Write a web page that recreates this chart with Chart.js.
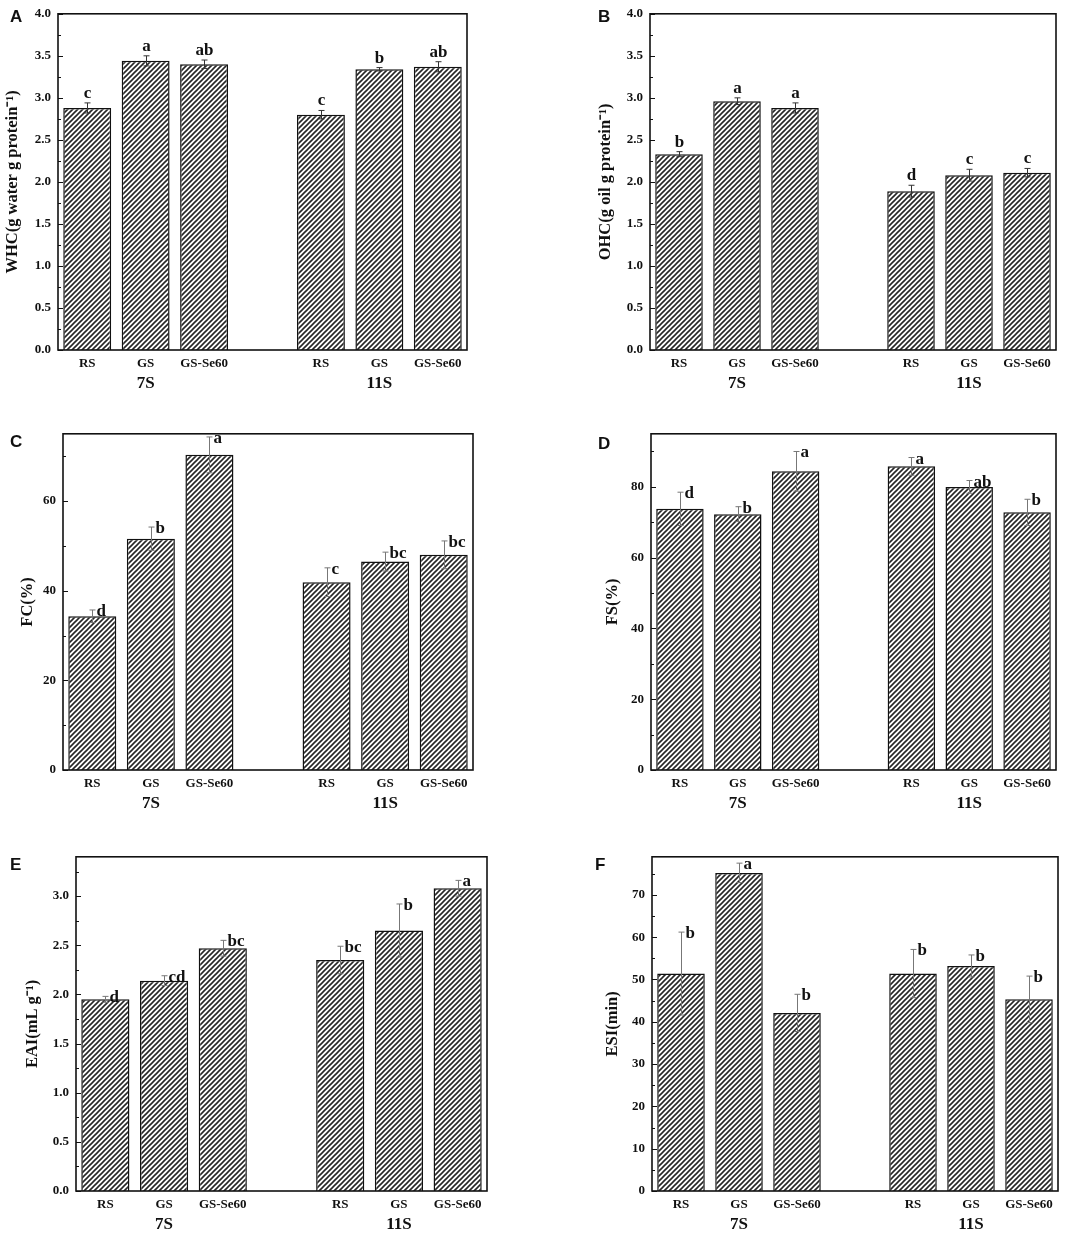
<html>

<head>
  <title>Protein functional properties</title>
  <style>
    body {
      margin: 0;
      background: #fff;
      width: 1084px;
      height: 1237px;
      position: relative;
      overflow: hidden;
    }
    .box {
      position: absolute;
    }
    .tag {
      position: absolute;
      font: bold 17px "Liberation Sans", Arial, sans-serif;
      color: #111;
    }
  </style>
  <script src="https://cdn.jsdelivr.net/npm/chart.js@4.4.0/dist/chart.umd.min.js"></script>
</head>

<body>
  <script>
    // categories (slot 3 is the empty gap between 7S and 11S)
    const categories = ['RS', 'GS', 'GS-Se60', '', 'RS', 'GS', 'GS-Se60'];
    const groups = ['7S', '11S'];
    const groupSlots = [1, 5];

    // A - WHC
    const whc = [2.88, 3.44, 3.40, null, 2.80, 3.34, 3.37];
    const whcErr = [0.06, 0.06, 0.05, null, 0.05, 0.02, 0.06];
    const whcSig = ['c', 'a', 'ab', '', 'c', 'b', 'ab'];
    // B - OHC
    const ohc = [2.33, 2.96, 2.88, null, 1.89, 2.08, 2.11];
    const ohcErr = [0.03, 0.04, 0.06, null, 0.07, 0.07, 0.05];
    const ohcSig = ['b', 'a', 'a', '', 'd', 'c', 'c'];
    // C - FC
    const fc = [34.3, 51.6, 70.3, null, 41.9, 46.5, 48.0];
    const fcErr = [1.4, 2.6, 4.0, null, 3.2, 2.1, 3.1];
    const fcSig = ['d', 'b', 'a', '', 'c', 'bc', 'bc'];
    // D - FS
    const fs = [73.8, 72.3, 84.4, null, 85.8, 80.0, 72.8];
    const fsErr = [4.7, 2.1, 5.6, null, 2.5, 1.8, 3.7];
    const fsSig = ['d', 'b', 'a', '', 'a', 'ab', 'b'];
    // E - EAI
    const eai = [1.95, 2.14, 2.47, null, 2.35, 2.65, 3.08];
    const eaiErr = [0.03, 0.05, 0.08, null, 0.14, 0.27, 0.08];
    const eaiSig = ['d', 'cd', 'bc', '', 'bc', 'b', 'a'];
    // F - ESI
    const esi = [51.4, 75.2, 42.1, null, 51.4, 53.2, 45.3];
    const esiErr = [9.8, 2.3, 4.4, null, 5.7, 2.6, 5.5];
    const esiSig = ['b', 'a', 'b', '', 'b', 'b', 'b'];

    // y tick labels
    const ticksHalf = [0, 0.5, 1.0, 1.5, 2.0, 2.5, 3.0, 3.5, 4.0];
    const ticksEai = [0, 0.5, 1.0, 1.5, 2.0, 2.5, 3.0];
    const ticksTwenty = [0, 20, 40, 60, 80];
    const ticksTen = [0, 10, 20, 30, 40, 50, 60, 70];

    const panels = [
      { tag: 'A', title: 'WHC(g water g protein\u207B\u00B9)', data: whc, err: whcErr, sig: whcSig, ticks: ticksHalf, max: 4.0, minor: 0.25, dec: 1, above: true,
        plot: [58, 9, 467, 350], left: 3, tagPos: [10, 7] },
      { tag: 'B', title: 'OHC(g oil g protein\u207B\u00B9)', data: ohc, err: ohcErr, sig: ohcSig, ticks: ticksHalf, max: 4.0, minor: 0.25, dec: 1, above: true,
        plot: [650, 9, 1056, 350], left: 596, tagPos: [598, 7] },
      { tag: 'C', title: 'FC(%)', data: fc, err: fcErr, sig: fcSig, ticks: ticksTwenty, max: 75, minor: 10, dec: 0, above: false,
        plot: [63, 429, 473, 770], left: 18, tagPos: [10, 432] },
      { tag: 'D', title: 'FS(%)', data: fs, err: fsErr, sig: fsSig, ticks: ticksTwenty, max: 95, minor: 10, dec: 0, above: false,
        plot: [651, 429, 1056, 770], left: 603, tagPos: [598, 434] },
      { tag: 'E', title: 'EAI(mL g\u207B\u00B9)', data: eai, err: eaiErr, sig: eaiSig, ticks: ticksEai, max: 3.4, minor: 0.25, dec: 1, above: false,
        plot: [76, 852, 487, 1191], left: 23, tagPos: [10, 855] },
      { tag: 'F', title: 'ESI(min)', data: esi, err: esiErr, sig: esiSig, ticks: ticksTen, max: 79, minor: 5, dec: 0, above: false,
        plot: [652, 852, 1058, 1191], left: 603, tagPos: [595, 855] },
    ];

    const serif = '"Liberation Serif", "Times New Roman", serif';

    function hatch() {
      const c = document.createElement('canvas');
      c.width = c.height = 5;
      const g = c.getContext('2d');
      g.fillStyle = '#fff';
      g.fillRect(0, 0, 5, 5);
      g.strokeStyle = '#262626';
      g.lineWidth = 1.6;
      g.beginPath();
      g.moveTo(0, 5); g.lineTo(5, 0);
      g.moveTo(-1, 1); g.lineTo(1, -1);
      g.moveTo(4, 6); g.lineTo(6, 4);
      g.stroke();
      return g.createPattern(c, 'repeat');
    }

    // frame, inward ticks, error bars, letters and group labels
    const decor = {
      id: 'decor',
      afterDatasetsDraw(chart) {
        const p = chart.options.plugins.decor;
        const ctx = chart.ctx;
        const a = chart.chartArea;
        const ys = chart.scales.y;
        const xs = chart.scales.x;
        ctx.save();

        // inward ticks on the left axis
        ctx.strokeStyle = '#111';
        ctx.lineWidth = 1;
        for (let v = 0; v <= p.max + 1e-9; v += p.minor) {
          const y = Math.round(ys.getPixelForValue(v)) + 0.5;
          const major = p.ticks.some(t => Math.abs(t - v) < 1e-9);
          ctx.beginPath();
          ctx.moveTo(a.left, y);
          ctx.lineTo(a.left + (major ? 5 : 3), y);
          ctx.stroke();
        }

        // error bars
        const meta = chart.getDatasetMeta(0);
        ctx.strokeStyle = p.above ? '#333' : '#777';
        ctx.lineWidth = 1;
        meta.data.forEach((bar, i) => {
          const v = p.data[i];
          if (v == null) return;
          const x = Math.round(bar.x) + 0.5;
          const yt = ys.getPixelForValue(v + p.err[i]);
          const yb = ys.getPixelForValue(v - p.err[i]);
          ctx.beginPath();
          ctx.moveTo(x, yt); ctx.lineTo(x, yb);
          ctx.moveTo(x - 3, yt); ctx.lineTo(x + 3, yt);
          ctx.moveTo(x - 3, yb); ctx.lineTo(x + 3, yb);
          ctx.stroke();

          // significance letters
          ctx.fillStyle = '#111';
          ctx.font = 'bold 17px ' + serif;
          if (p.above) {
            ctx.textAlign = 'center';
            ctx.textBaseline = 'alphabetic';
            ctx.fillText(p.sig[i], x, yt - 5);
          } else {
            ctx.textAlign = 'left';
            ctx.textBaseline = 'alphabetic';
            ctx.fillText(p.sig[i], x + 4, yt + 6);
          }
        });

        // group labels
        ctx.font = 'bold 17px ' + serif;
        ctx.textAlign = 'center';
        ctx.textBaseline = 'middle';
        ctx.fillStyle = '#111';
        groups.forEach((g, k) => {
          ctx.fillText(g, xs.getPixelForValue(groupSlots[k]), a.bottom + 34);
        });

        // frame
        ctx.strokeStyle = '#111';
        ctx.lineWidth = 1.6;
        ctx.strokeRect(a.left, a.top, a.right - a.left, a.bottom - a.top);
        ctx.restore();
      }
    };

    panels.forEach(p => {
      const [pl, pt, pr, pb] = p.plot;
      const top = pt - 10;
      const w = pr - p.left + 14;
      const h = pb - top + 50;

      const box = document.createElement('div');
      box.className = 'box';
      box.style.left = p.left + 'px';
      box.style.top = top + 'px';
      box.style.width = w + 'px';
      box.style.height = h + 'px';
      const cv = document.createElement('canvas');
      box.appendChild(cv);
      document.body.appendChild(box);

      const tag = document.createElement('div');
      tag.className = 'tag';
      tag.textContent = p.tag;
      tag.style.left = p.tagPos[0] + 'px';
      tag.style.top = p.tagPos[1] + 'px';
      document.body.appendChild(tag);

      new Chart(cv, {
        type: 'bar',
        data: {
          labels: categories,
          datasets: [{
            data: p.data,
            backgroundColor: hatch(),
            borderColor: '#111',
            borderWidth: 1.5,
            barPercentage: 0.82,
            categoryPercentage: 1.0,
          }],
        },
        options: {
          responsive: true,
          maintainAspectRatio: false,
          animation: false,
          layout: { padding: { top: 10, right: 14, left: 0, bottom: 0 } },
          plugins: {
            legend: { display: false },
            tooltip: { enabled: false },
            decor: { data: p.data, err: p.err, sig: p.sig, ticks: p.ticks, max: p.max, minor: p.minor, above: p.above },
          },
          scales: {
            x: {
              grid: { display: false, drawTicks: false },
              border: { display: false },
              ticks: {
                autoSkip: false,
                maxRotation: 0,
                padding: 6,
                color: '#111',
                font: { family: serif, size: 13, weight: 'bold' },
              },
              afterFit(s) { s.height = 50; },
            },
            y: {
              min: 0,
              max: p.max,
              grid: { display: false, drawTicks: false },
              border: { display: false },
              afterBuildTicks(s) { s.ticks = p.ticks.map(v => ({ value: v })); },
              ticks: {
                padding: 7,
                color: '#111',
                font: { family: serif, size: 13, weight: 'bold' },
                callback: v => Number(v).toFixed(p.dec),
              },
              title: {
                display: true,
                text: p.title,
                color: '#111',
                padding: { top: 0, bottom: 0 },
                font: { family: serif, size: 16.5, weight: 'bold' },
              },
              afterFit(s) { s.width = pl - p.left; },
            },
          },
        },
        plugins: [decor],
      });
    });
  </script>
</body>

</html>
